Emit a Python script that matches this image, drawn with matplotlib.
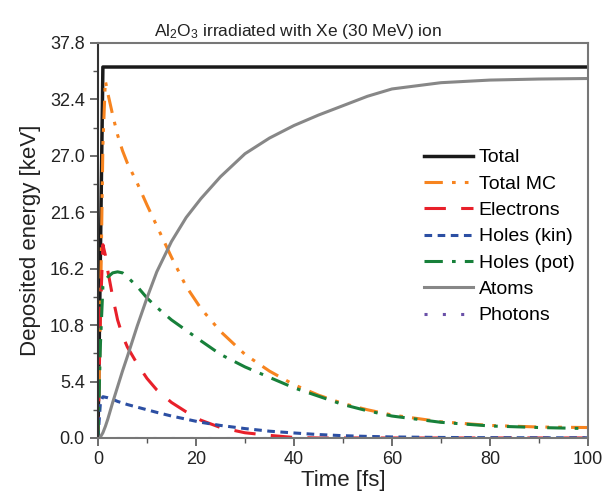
import matplotlib.pyplot as plt
from matplotlib.ticker import MultipleLocator

# time grid [fs] and deposited energies [keV]
t = [0, 0.5, 1, 1.5, 2, 3, 4, 5, 6, 8, 10, 12, 15, 18, 21, 25, 30, 35, 40, 45, 50, 55, 60, 70, 80, 90, 100]
total_t = [0, 1.0, 100]
total = [0, 35.5, 35.5]
total_mc = [0, 12, 28, 34.2, 33.0, 30.9, 29.0, 27.5, 26.3, 24.4, 22.3, 20.3, 17.3, 14.5, 12.4,
            10.2, 8.0, 6.4, 5.1, 4.1, 3.3, 2.7, 2.2, 1.55, 1.2, 1.05, 1.0]
electrons = [0, 12, 18.5, 17.5, 16.0, 13.5, 11.3, 9.8, 8.7, 7.1, 5.7, 4.6, 3.4, 2.5, 1.7,
             1.0, 0.5, 0.25, 0.05, 0, 0, 0, 0, 0, 0, 0, 0]
holes_kin = [0, 3.4, 3.95, 3.9, 3.85, 3.7, 3.5, 3.35, 3.2, 2.95, 2.7, 2.45, 2.1, 1.8, 1.5,
             1.2, 0.9, 0.65, 0.48, 0.33, 0.22, 0.15, 0.1, 0.05, 0.03, 0.02, 0.02]
holes_pot = [0, 9, 14.5, 15.0, 15.4, 15.8, 15.9, 15.8, 15.4, 14.5, 13.4, 12.5, 11.3, 10.3, 9.3,
             8.0, 6.8, 5.8, 4.8, 4.0, 3.2, 2.6, 2.1, 1.5, 1.15, 1.0, 0.9]
atoms = [0, 0.1, 0.5, 1.1, 1.8, 3.4, 4.9, 6.4, 7.8, 10.7, 13.4, 15.9, 18.8, 21.1, 22.9,
         25.0, 27.2, 28.7, 29.9, 30.9, 31.8, 32.7, 33.4, 34.0, 34.25, 34.35, 34.4]
photons = [0] * len(t)

plt.rcParams['font.family'] = ['Liberation Sans', 'DejaVu Sans']
plt.rcParams['mathtext.default'] = 'regular'

fig = plt.figure(figsize=(6.03, 4.94), dpi=100)
ax = fig.add_axes([0.1625, 0.1134, 0.8125, 0.7996])

ax.plot(total_t, total, color='#1a1a1a', lw=2.5, label='Total')
ax.plot(t, total_mc, color='#f7841f', lw=2.2, ls=(0, (6, 3, 1.2, 3, 1.2, 3)), label='Total MC')
ax.plot(t, electrons, color='#e8202a', lw=2.2, ls=(0, (7, 5)), label='Electrons')
ax.plot(t, holes_kin, color='#2c4fa3', lw=2.2, ls=(0, (2.5, 1.8)), label='Holes (kin)')
ax.plot(t, holes_pot, color='#17803a', lw=2.2, ls=(0, (6, 3, 1.2, 3)), label='Holes (pot)')
ax.plot(t, atoms, color='#878787', lw=2.2, label='Atoms')
ax.plot(t, photons, color='#6a50a8', lw=2.2, ls=(0, (1, 5)), label='Photons')

ax.set_xlim(0, 100)
ax.set_ylim(0, 37.8)
ax.xaxis.set_major_locator(MultipleLocator(20))
ax.xaxis.set_minor_locator(MultipleLocator(10))
ax.yaxis.set_major_locator(MultipleLocator(5.4))
ax.yaxis.set_minor_locator(MultipleLocator(2.7))
ax.yaxis.set_major_formatter(plt.FormatStrFormatter('%.1f'))
ax.tick_params(which='both', direction='out', top=False, right=False, colors='#555555',
               labelcolor='#222222', labelsize=13)
ax.tick_params(which='major', length=6, width=1.2)
ax.tick_params(which='minor', length=3.5, width=1.0)
for s in ax.spines.values():
    s.set_color('#777777')
    s.set_linewidth(1.5)
ax.spines['left'].set_color('#333333')

fig.text(0.495, 0.955, 'Al$_2$O$_3$ irradiated with Xe (30 MeV) ion', fontsize=12.5,
         color='#222222', ha='center', va='top')
ax.set_xlabel('Time [fs]', fontsize=16, color='#222222', labelpad=1)
ax.set_ylabel('Deposited energy [keV]', fontsize=16, color='#222222', labelpad=6)

ax.legend(loc='upper left', bbox_to_anchor=(0.65, 0.752), frameon=False, fontsize=14,
          handlelength=2.5, handletextpad=0.3, labelspacing=0.45, borderaxespad=0)

fig.savefig('out.png', dpi=100)
